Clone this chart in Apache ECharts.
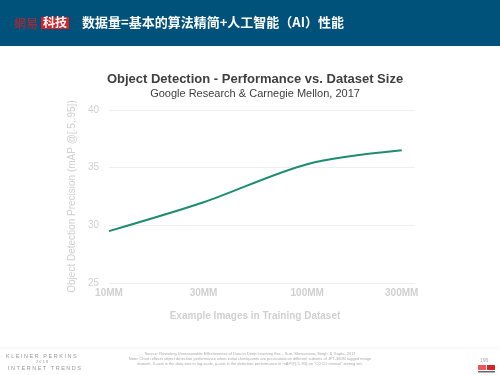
<!DOCTYPE html>
<html>
<head>
<meta charset="utf-8">
<script src="https://cdn.jsdelivr.net/npm/echarts@6/dist/echarts.min.js"></script>
<style>
  html, body { margin: 0; padding: 0; background: #fff; }
  #main { width: 500px; height: 375px; }
</style>
</head>
<body>
<div id="main"></div>
<script>
// dataset size in millions of images
var sizes = [10, 30, 100, 300]
// mAP@[.5,.95]
var precision = [29.5, 32.0, 35.3, 36.5]
var xTicks = [10, 30, 100, 300]
var xTickLabels = ['10MM', '30MM', '100MM', '300MM']
var yTicks = [25, 30, 35, 40]

var sans = 'Liberation Sans, Arial, sans-serif'
var cjk = 'Noto Sans CJK SC, sans-serif'

var chart = echarts.init(document.getElementById('main'))

chart.setOption({
  backgroundColor: '#fff',
  animation: false,
  title: [{
    text: 'Object Detection - Performance vs. Dataset Size',
    left: 250, top: 68, textAlign: 'center',
    textStyle: { fontFamily: sans, fontSize: 13, fontWeight: 'bold', color: '#404040' }
  }, {
    text: 'Google Research & Carnegie Mellon, 2017',
    left: 250, top: 83, textAlign: 'center',
    textStyle: { fontFamily: sans, fontSize: 11, fontWeight: 'normal', color: '#404040' }
  }, {
    text: 'Example Images in Training Dataset',
    left: 250, top: 306, textAlign: 'center',
    textStyle: { fontFamily: sans, fontSize: 10, fontWeight: 'bold', color: '#d0d0d0' }
  }],
  grid: { left: 109, right: 85, top: 110, bottom: 92 },
  xAxis: {
    type: 'log',
    logBase: 10,
    min: 10,
    max: 350,
    axisLine: { show: false },
    axisTick: { show: false },
    splitLine: { show: false },
    axisLabel: {
      customValues: xTicks,
      margin: 5,
      color: '#d0d0d0',
      fontFamily: sans,
      fontSize: 10,
      fontWeight: 'bold',
      formatter: function (v) {
        var i = xTicks.indexOf(Math.round(v))
        return i >= 0 ? xTickLabels[i] : ''
      }
    }
  },
  yAxis: {
    type: 'value',
    min: yTicks[0],
    max: yTicks[yTicks.length - 1],
    interval: 5,
    name: 'Object Detection Precision (mAP @[.5,.95])',
    nameLocation: 'middle',
    nameGap: 32,
    nameTextStyle: { fontFamily: sans, fontSize: 10, color: '#d0d0d0' },
    axisLine: { show: false },
    axisTick: { show: false },
    axisLabel: { color: '#d0d0d0', fontFamily: sans, fontSize: 10, margin: 10 },
    splitLine: { lineStyle: { color: '#efefef', width: 1 } }
  },
  series: [{
    type: 'line',
    data: sizes.map(function (s, i) { return [s, precision[i]] }),
    smooth: 0.3,
    showSymbol: false,
    lineStyle: { color: '#1f8c72', width: 2 }
  }],
  graphic: [
    // header bar
    { type: 'rect', left: 0, top: 0, shape: { width: 500, height: 46 }, style: { fill: '#00527b' }, z: -1 },
    { type: 'text', left: 14, top: 17, style: { text: '網易', fill: '#c8202a', font: '12px ' + cjk } },
    { type: 'rect', left: 41, top: 17, shape: { width: 28, height: 12 }, style: { fill: '#d0232a' } },
    { type: 'text', left: 43, top: 16, style: { text: '科技', fill: '#fff', font: 'bold 12px ' + cjk } },
    { type: 'text', left: 82, top: 16, style: { text: '数据量=基本的算法精简+人工智能（AI）性能', fill: '#fff', font: 'bold 13px ' + cjk } },
    // footer
    { type: 'line', shape: { x1: 0, y1: 348, x2: 500, y2: 348 }, style: { stroke: '#f2f2f2', lineWidth: 1 } },
    { type: 'text', left: 6, top: 353, style: { text: 'K L E I N E R   P E R K I N S', fill: '#999', font: '5.5px ' + sans } },
    { type: 'text', left: 36, top: 360, style: { text: '2 0 1 8', fill: '#999', font: '4px ' + sans } },
    { type: 'text', left: 8, top: 365.5, style: { text: 'I N T E R N E T   T R E N D S', fill: '#999', font: '5.5px ' + sans } },
    { type: 'text', x: 250, y: 352, style: { text: 'Source: Revisiting Unreasonable Effectiveness of Data in Deep Learning Era \u2013 Sun, Shrivastava, Singh, & Gupta, 2017', fill: '#aaa', font: '4px ' + sans, align: 'center' } },
    { type: 'text', x: 250, y: 357, style: { text: 'Note: Chart reflects object detection performance when initial checkpoints are pre-trained on different subsets of JFT-300M tagged image', fill: '#aaa', font: '4px ' + sans, align: 'center' } },
    { type: 'text', x: 250, y: 362, style: { text: 'dataset. X-axis is the data size in log-scale, y-axis is the detection performance in mAP@[.5,.95] on \u201cCOCO minival\u201d testing set.', fill: '#aaa', font: '4px ' + sans, align: 'center' } },
    { type: 'text', left: 480, top: 358, style: { text: '196', fill: '#aaa', font: '5px ' + sans } },
    { type: 'rect', left: 478, top: 365, shape: { width: 8, height: 5 }, style: { fill: '#e85a5a' } },
    { type: 'rect', left: 487, top: 365, shape: { width: 8, height: 5 }, style: { fill: '#d0232a' } },
    { type: 'rect', left: 478, top: 371, shape: { width: 17, height: 1.5 }, style: { fill: '#666' } }
  ]
})
</script>
</body>
</html>
